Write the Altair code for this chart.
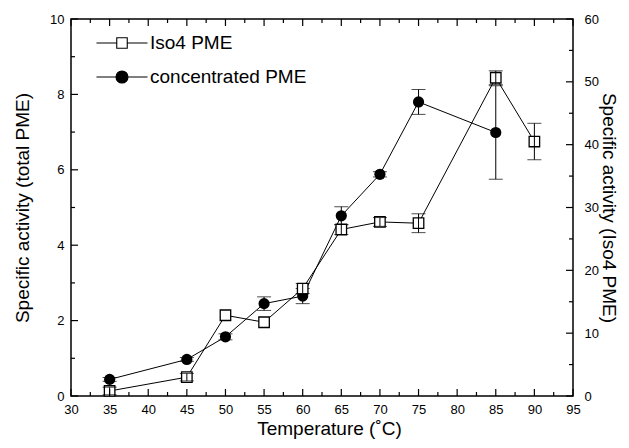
import altair as alt
import pandas as pd

# ---------------- data ----------------
temp_conc = [35, 45, 50, 55, 60, 65, 70, 75, 85]
act_conc = [0.44, 0.97, 1.57, 2.45, 2.65, 4.78, 5.88, 7.80, 6.99]
err_conc = [0.05, 0.05, 0.08, 0.18, 0.20, 0.24, 0.07, 0.33, 1.24]

temp_iso = [35, 45, 50, 55, 60, 65, 70, 75, 85, 90]
act_iso = [0.8, 3.0, 12.85, 11.74, 17.1, 26.5, 27.7, 27.5, 50.65, 40.5]
err_iso = [0.6, 0.6, None, None, 0.8, 0.8, 0.7, 1.5, 1.1, 2.9]

series_names = ["Iso4 PME", "concentrated PME"]

x_major = [30, 35, 40, 45, 50, 55, 60, 65, 70, 75, 80, 85, 90, 95]
x_minor = [32.5, 37.5, 42.5, 47.5, 52.5, 57.5, 62.5, 67.5, 72.5, 77.5, 82.5, 87.5, 92.5]
yl_major = [0, 2, 4, 6, 8, 10]
yl_minor = [1, 3, 5, 7, 9]
yr_major = [0, 10, 20, 30, 40, 50, 60]
yr_minor = [5, 15, 25, 35, 45, 55]

# ---------------- tables ----------------
conc_df = pd.DataFrame({"T": temp_conc, "y": act_conc, "e": err_conc})
conc_df["lo"] = conc_df["y"] - conc_df["e"]
conc_df["hi"] = conc_df["y"] + conc_df["e"]

iso_df = pd.DataFrame({"T": temp_iso, "y": act_iso, "e": err_iso})
iso_err_df = iso_df.dropna().copy()
iso_err_df["lo"] = iso_err_df["y"] - iso_err_df["e"]
iso_err_df["hi"] = iso_err_df["y"] + iso_err_df["e"]

legend_df = pd.DataFrame({"series": series_names, "T": [30, 30], "y": [0, 0]})

W, H = 502, 377
MAJ, MIN = 7, 4
FONT = "Liberation Sans"
TFS = 19

xs = alt.Scale(domain=[30, 95], nice=False, zero=False)
yls = alt.Scale(domain=[0, 10], nice=False, zero=False)
yrs = alt.Scale(domain=[0, 60], nice=False, zero=False)

common_axis = dict(grid=False, ticks=False, domain=False, labelOverlap=False,
                   labelFlush=False, labelBound=False,
                   labelFont=FONT, labelFontSize=13,
                   labelColor="black", titleFont=FONT, titleFontSize=TFS,
                   titleFontWeight="normal", titleColor="black")

x_axis = alt.Axis(values=x_major, title="Temperature (˚C)", labelPadding=7,
                  titlePadding=3, titleX=W / 2 + 7, **common_axis)
yl_axis = alt.Axis(values=yl_major, title="Specific activity (total PME)",
                   labelPadding=7, titlePadding=17, **common_axis)
yr_axis = alt.Axis(values=yr_major, title="Specific activity (Iso4 PME)", orient="right",
                   labelPadding=11, titlePadding=0, **common_axis)


def X():
    # every layer carries the same x axis definition so the merged axis keeps its values
    return alt.X("T:Q", scale=xs, axis=x_axis)


# ---------------- concentrated PME (left axis) ----------------
c_base = alt.Chart(conc_df)
c_line = c_base.mark_line(color="black", strokeWidth=1).encode(
    x=X(), y=alt.Y("y:Q", scale=yls, axis=yl_axis))
c_rule = c_base.mark_rule(color="black", strokeWidth=1).encode(
    x=X(), y=alt.Y("lo:Q", scale=yls, axis=None), y2="hi:Q")
c_cap_lo = c_base.mark_tick(color="black", orient="horizontal", size=14, thickness=1).encode(
    x=X(), y=alt.Y("lo:Q", scale=yls, axis=None))
c_cap_hi = c_base.mark_tick(color="black", orient="horizontal", size=14, thickness=1).encode(
    x=X(), y=alt.Y("hi:Q", scale=yls, axis=None))
c_pts = c_base.mark_point(shape="circle", filled=True, fill="black", size=125, opacity=1).encode(
    x=X(), y=alt.Y("y:Q", scale=yls, axis=None))

sq_path = "M-1.7,0H-0.36M0.36,0H1.7M-0.35,-0.35H0.35V0.35H-0.35Z"
ci_path = "M-1.7,0H-0.4M0.4,0H1.7M-0.4,0A0.4,0.4 0 1,0 0.4,0A0.4,0.4 0 1,0 -0.4,0Z"

leg = alt.Legend(title=None)
leg_layer = alt.Chart(legend_df).transform_filter("false").mark_point(
    filled=True, size=900, strokeWidth=1.1, opacity=1
).encode(
    x=X(),
    y=alt.Y("y:Q", scale=yls, axis=None),
    shape=alt.Shape("series:N", scale=alt.Scale(domain=series_names, range=[sq_path, ci_path]),
                    legend=leg),
    fill=alt.Fill("series:N", scale=alt.Scale(domain=series_names, range=["white", "black"]),
                  legend=leg),
    stroke=alt.Stroke("series:N", scale=alt.Scale(domain=series_names, range=["black", "black"]),
                      legend=leg),
)

# ---------------- Iso4 PME (right axis) ----------------
i_base = alt.Chart(iso_df)
i_line = i_base.mark_line(color="black", strokeWidth=1).encode(
    x=X(), y=alt.Y("y:Q", scale=yrs, axis=yr_axis))
i_pts = i_base.mark_point(shape="square", filled=True, fill="white", stroke="black",
                          strokeWidth=1.3, size=110, opacity=1).encode(
    x=X(), y=alt.Y("y:Q", scale=yrs, axis=None))
ie = alt.Chart(iso_err_df)
i_rule = ie.mark_rule(color="black", strokeWidth=1).encode(
    x=X(), y=alt.Y("lo:Q", scale=yrs, axis=None), y2="hi:Q")
i_cap_lo = ie.mark_tick(color="black", orient="horizontal", size=14, thickness=1).encode(
    x=X(), y=alt.Y("lo:Q", scale=yrs, axis=None))
i_cap_hi = ie.mark_tick(color="black", orient="horizontal", size=14, thickness=1).encode(
    x=X(), y=alt.Y("hi:Q", scale=yrs, axis=None))


# ---------------- inward tick marks ----------------
def rules_x(vals, y0, y1):
    return alt.Chart(pd.DataFrame({"T": vals})).mark_rule(color="black", strokeWidth=1.2).encode(
        x=X(), y=alt.value(y0), y2=alt.value(y1))


def rules_y(vals, scale, x0, x1):
    return alt.Chart(pd.DataFrame({"v": vals})).mark_rule(color="black", strokeWidth=1.2).encode(
        y=alt.Y("v:Q", scale=scale, axis=None), x=alt.value(x0), x2=alt.value(x1))


tick_layers = [
    rules_x(x_major, H, H - MAJ), rules_x(x_minor, H, H - MIN),
    rules_x(x_major, 0, MAJ), rules_x(x_minor, 0, MIN),
    rules_y(yl_major, yls, 0, MAJ), rules_y(yl_minor, yls, 0, MIN),
    rules_y(yr_major, yrs, W, W - MAJ), rules_y(yr_minor, yrs, W, W - MIN),
]

chart = alt.layer(
    c_line, i_line, c_rule, c_cap_lo, c_cap_hi, c_pts,
    i_pts, i_rule, i_cap_lo, i_cap_hi, leg_layer, *tick_layers
).resolve_scale(y="independent").properties(
    width=W, height=H,
    autosize=alt.AutoSizeParams(type="none"),
    padding={"left": 63, "top": 11, "right": 48, "bottom": 44},
).configure_view(
    stroke="black", strokeWidth=1.5
).configure_legend(
    orient="none", legendX=35, legendY=8, padding=0,
    symbolSize=900, symbolStrokeWidth=1.1, symbolStrokeColor="black",
    labelFont=FONT, labelFontSize=TFS, labelColor="black", labelOffset=12,
    rowPadding=8,
)

chart.save("out.html", embed_options={"renderer": "svg", "actions": False})
